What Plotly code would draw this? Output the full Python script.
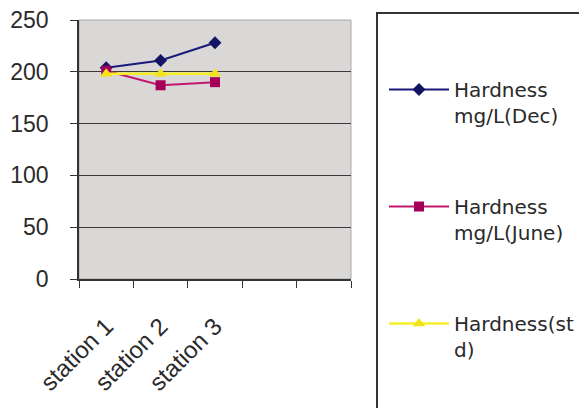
import plotly.graph_objects as go

stations = ["station 1", "station 2", "station 3"]
all_categories = ["station 1", "station 2", "station 3", " ", "  "]
dec_vals = [204, 211, 228]
june_vals = [201, 187, 190]
std_vals = [198, 198, 198]
series_names = ["Hardness<br>mg/L(Dec)", "Hardness<br>mg/L(June)", "Hardness(st<br>d)"]
y_ticks = [0, 50, 100, 150, 200, 250]

OFF = 8  # page body margin
W, H = 587 - OFF, 408 - OFF
L, R, T, B = 79 - OFF, 351 - OFF, 20 - OFF, 279 - OFF

def px_x(p):
    return (p - OFF - L) / (R - L)

def px_y(p):
    return (B - (p - OFF)) / (B - T)

fig = go.Figure()
fig.add_trace(go.Scatter(x=stations, y=dec_vals, name=series_names[0], legendgroup="a",
                         mode="lines+markers", line=dict(color="#1a1a7a", width=2),
                         marker=dict(symbol="diamond", size=10, color="#141466")))
fig.add_trace(go.Scatter(x=stations, y=june_vals, name=series_names[1], legendgroup="b",
                         mode="lines+markers", line=dict(color="#c2186e", width=2),
                         marker=dict(symbol="square", size=10, color="#a4005a")))
fig.add_trace(go.Scatter(x=stations, y=std_vals, name=series_names[2], legendgroup="c",
                         mode="lines+markers", line=dict(color="#f7ee2a", width=2.5),
                         marker=dict(symbol="triangle-up", size=11, color="#f2e21a")))

fig.update_layout(
    width=W, height=H,
    margin=dict(l=L, r=W - R, t=T, b=H - B, autoexpand=False),
    paper_bgcolor="white",
    plot_bgcolor="#d9d8d6",
    font=dict(family="Liberation Sans", size=22, color="#2a2a2a"),
    showlegend=True,
    legend=dict(x=px_x(384), y=px_y(70), xanchor="left", yanchor="top",
                bgcolor="rgba(0,0,0,0)", borderwidth=0, maxheight=400,
                itemwidth=60, tracegroupgap=62, valign="top",
                font=dict(size=20, family="DejaVu Sans", color="#2a2a2a")),
    xaxis=dict(type="category", categoryorder="array", categoryarray=all_categories,
               range=[-0.5, 4.5], tickson="boundaries", ticks="outside", ticklen=7,
               tickcolor="#333", showline=True, linecolor="#333", linewidth=1.5,
               showgrid=False, tickangle=-45, ticklabelstandoff=22, zeroline=False,
               automargin=False, ticklabeloverflow="allow",
               tickfont=dict(size=24, family="Liberation Sans", color="#2a2a2a")),
    yaxis=dict(range=[0, 250], tickvals=y_ticks, ticks="outside", ticklen=7,
               tickcolor="#333", showline=True, linecolor="#333", linewidth=1.5,
               showgrid=True, gridcolor="#3a3a3a", gridwidth=1.3, zeroline=False,
               ticklabelstandoff=17, automargin=False, ticklabeloverflow="allow",
               tickfont=dict(size=23, family="Liberation Sans", color="#2a2a2a")),
    shapes=[
        dict(type="rect", xref="paper", yref="paper", x0=0, x1=1, y0=0, y1=1,
             line=dict(color="#a8a8a8", width=1), layer="below"),
        dict(type="rect", xref="paper", yref="paper", x0=px_x(377), x1=px_x(600),
             y0=px_y(420), y1=px_y(13), line=dict(color="#333", width=2)),
    ],
)

fig.write_html("out.html")
